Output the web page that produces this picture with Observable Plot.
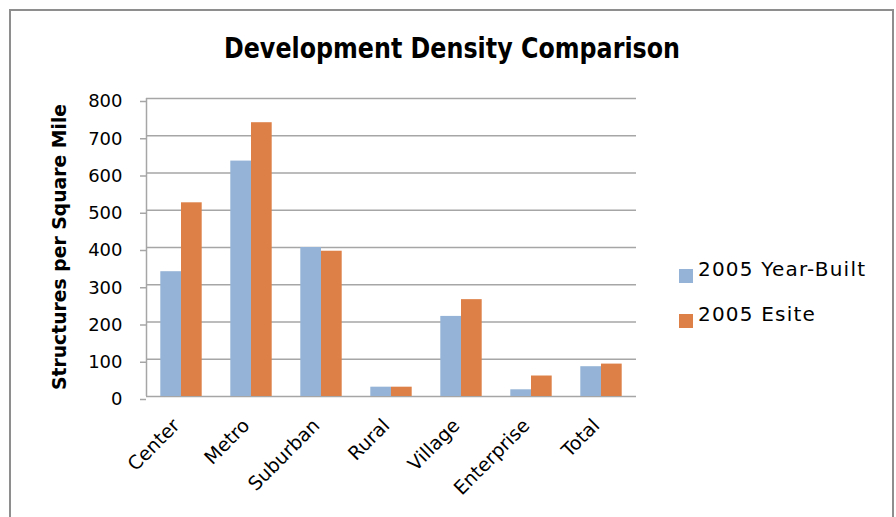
<!DOCTYPE html>
<html>
<head>
<meta charset="utf-8">
<script src="https://cdn.jsdelivr.net/npm/d3@7"></script>
<script src="https://cdn.jsdelivr.net/npm/@observablehq/plot@0.6"></script>
<style>
  html, body { margin: 0; padding: 0; background: #fff; }
  #wrap { position: relative; width: 896px; height: 517px; overflow: hidden; background: #fff; font-family: "DejaVu Sans", sans-serif; }
  #border { position: absolute; left: 9px; top: 9px; width: 885px; height: 530px; border: 2px solid #8e8e8e; box-sizing: border-box; }
  #title { position: absolute; left: 452px; top: 48px; transform: translate(-50%, -50%) scaleX(0.85); white-space: nowrap; font-weight: bold; font-size: 28px; color: #000; }
  #ytitle { position: absolute; left: 59px; top: 247px; transform: translate(-50%, -50%) rotate(-90deg); white-space: nowrap; font-weight: bold; font-size: 18.8px; color: #000; }
  #chart { position: absolute; left: 0; top: 0; }
  .leg { position: absolute; left: 679px; font-size: 20px; letter-spacing: 1.2px; color: #000; white-space: nowrap; }
  .leg .sw { position: absolute; left: 0; width: 14px; height: 14px; }
  .leg span.t { position: absolute; left: 19px; top: -12px; }
</style>
</head>
<body>
<div id="wrap">
  <div id="border"></div>
  <div id="chart"></div>
  <div id="title"></div>
  <div id="ytitle"></div>
  <div id="legend"></div>
</div>
<script>
const chartTitle = "Development Density Comparison";
const yAxisTitle = "Structures per Square Mile";
const categories = ["Center", "Metro", "Suburban", "Rural", "Village", "Enterprise", "Total"];
const seriesNames = ["2005 Year-Built", "2005 Esite"];
const yearBuilt = [335, 632, 400, 25, 215, 18, 80];
const esite = [520, 735, 390, 25, 260, 55, 87];
const yTicks = [0, 100, 200, 300, 400, 500, 600, 700, 800];

const blue = "#94b3d6";
const orange = "#dd8047";
const gridColor = "#a6a6a6";

const builtRows = categories.map((c, i) => ({category: c, series: seriesNames[0], value: yearBuilt[i]}));
const esiteRows = categories.map((c, i) => ({category: c, series: seriesNames[1], value: esite[i]}));

const chart = Plot.plot({
  width: 896,
  height: 517,
  marginLeft: 146,
  marginRight: 260,
  marginTop: 98,
  marginBottom: 121,
  style: {fontFamily: "DejaVu Sans, sans-serif", fontSize: "18px", color: "#000", background: "transparent", overflow: "visible"},
  x: {domain: categories, padding: 0, label: null},
  y: {domain: [0, 800], label: null},
  marks: [
    Plot.gridY(yTicks, {stroke: gridColor, strokeOpacity: 1, strokeWidth: 1.5}),
    Plot.barY(builtRows, {x: "category", y: "value", fill: blue, insetLeft: 14.3, insetRight: 35}),
    Plot.barY(esiteRows, {x: "category", y: "value", fill: orange, insetLeft: 35, insetRight: 14.3}),
    Plot.ruleX([categories[0]], {y1: 0, y2: 800, dx: -35, stroke: gridColor, strokeWidth: 1.5}),
    Plot.axisY(yTicks, {tickSize: 6, tickPadding: 18, stroke: gridColor, strokeOpacity: 1, strokeWidth: 1.5, fill: "#000", label: null, dy: 3, tickFormat: d => String(d)}),
    Plot.axisX({tickRotate: -45, tickSize: 0, tickPadding: 26, dx: -5, fontSize: 19, label: null, fill: "#000", style: {letterSpacing: "1px"}})
  ]
});
document.getElementById("chart").appendChild(chart);
document.getElementById("title").textContent = chartTitle;
document.getElementById("ytitle").textContent = yAxisTitle;

const legend = document.getElementById("legend");
const legendColors = [blue, orange];
const legendTops = [269, 314];
seriesNames.forEach((name, i) => {
  const item = document.createElement("div");
  item.className = "leg";
  item.style.top = legendTops[i] + "px";
  const sw = document.createElement("div");
  sw.className = "sw";
  sw.style.background = legendColors[i];
  const t = document.createElement("span");
  t.className = "t";
  t.textContent = name;
  item.appendChild(sw);
  item.appendChild(t);
  legend.appendChild(item);
});
</script>
</body>
</html>
